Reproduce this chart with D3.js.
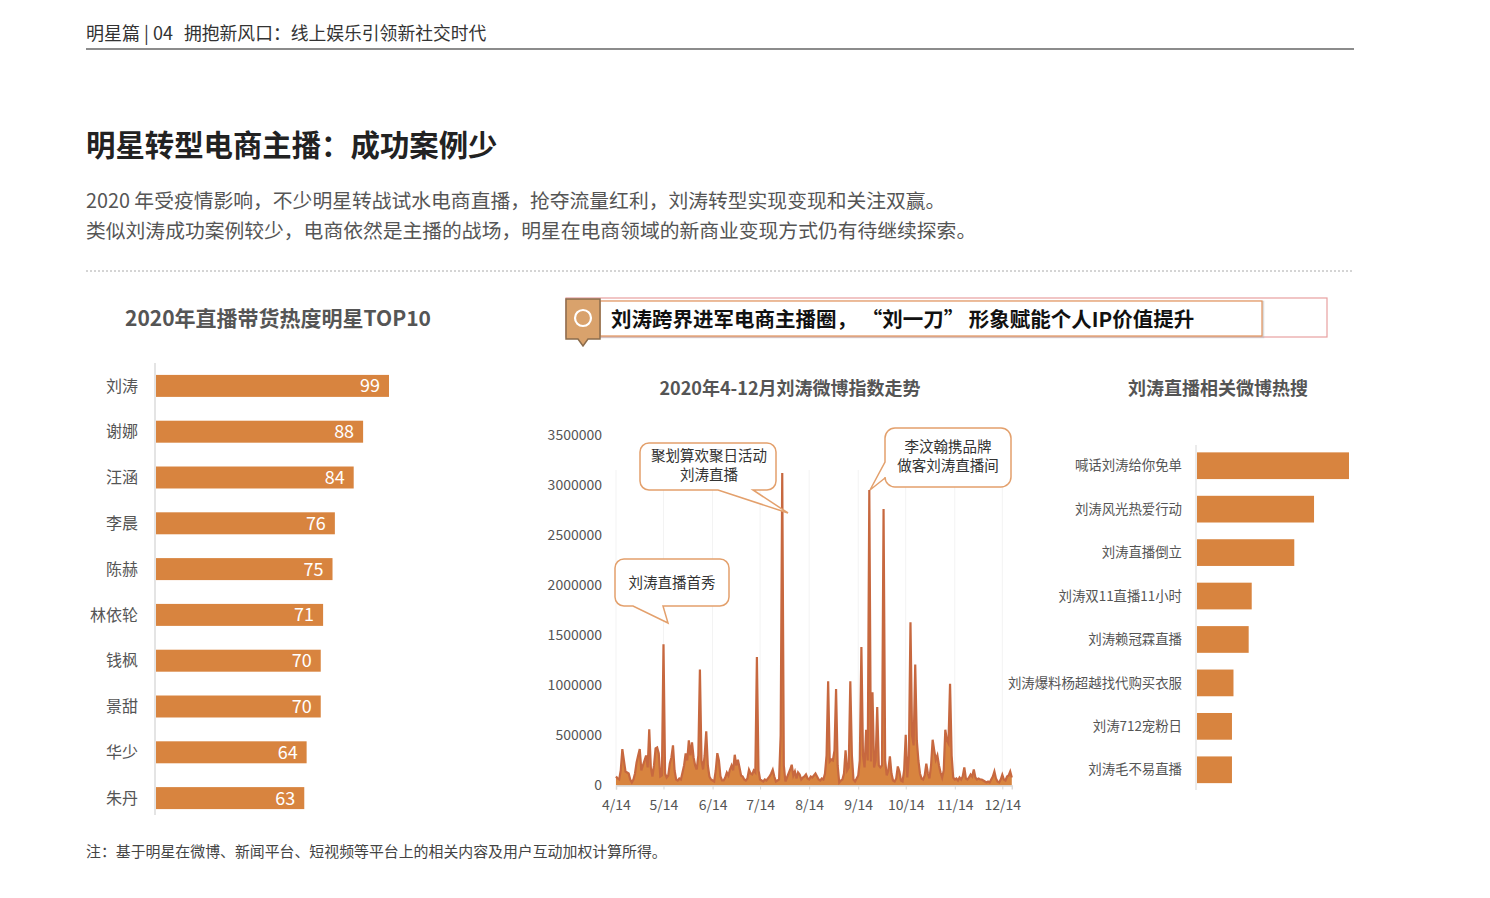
<!DOCTYPE html>
<html>
<head>
<meta charset="utf-8">
<script src="https://cdn.jsdelivr.net/npm/d3@7"></script>
<style>
  body { margin: 0; background: #fff; }
  svg text { font-family: "Noto Sans CJK SC", "Noto Sans", sans-serif; }
</style>
</head>
<body>
<div id="chart"></div>
<script>
// Left chart: 2020 live-commerce star heat TOP10
const starNames = ["刘涛", "谢娜", "汪涵", "李晨", "陈赫", "林依轮", "钱枫", "景甜", "华少", "朱丹"];
const starHeat = [99, 88, 84, 76, 75, 71, 70, 70, 64, 63];

// Right chart: related weibo hot searches (relative heat)
const hotTopics = ["喊话刘涛给你免单", "刘涛风光热爱行动", "刘涛直播倒立", "刘涛双11直播11小时",
  "刘涛赖冠霖直播", "刘涛爆料杨超越找代购买衣服", "刘涛712宠粉日", "刘涛毛不易直播"];
const hotValues = [100, 77, 64, 36, 34, 24, 23, 23];

// Middle chart: daily weibo index, 2020-04-14 .. 2020-12-20
const startDate = "2020-04-14";
const indexApr = [90000, 70000, 60000, 150000, 364000, 250000, 140000, 130000, 120000, 60000,
  30000, 60000, 120000, 230000, 300000, 364000, 150000];
const indexMay = [200000, 250000, 300000, 180000, 560000, 180000, 90000, 200000, 370000, 380000,
  320000, 90000, 100000, 1410000, 120000, 80000, 100000, 220000, 280000, 400000,
  150000, 60000, 50000, 70000, 60000, 130000, 200000, 320000, 250000, 450000, 300000];
const indexJun = [430000, 280000, 200000, 160000, 300000, 1157000, 250000, 160000, 300000, 540000,
  200000, 90000, 60000, 50000, 40000, 150000, 323000, 250000, 90000, 50000,
  50000, 80000, 130000, 100000, 160000, 200000, 150000, 307000, 200000, 257000];
const indexJul = [180000, 100000, 90000, 60000, 50000, 70000, 157000, 120000, 110000, 150000,
  130000, 1283000, 150000, 60000, 50000, 40000, 60000, 50000, 70000, 90000,
  120000, 157000, 90000, 40000, 50000, 60000, 500000, 3120000, 200000, 40000, 80000];
const indexAug = [120000, 160000, 207000, 100000, 140000, 70000, 130000, 110000, 60000, 80000,
  90000, 110000, 70000, 60000, 90000, 80000, 100000, 120000, 90000, 60000,
  50000, 70000, 60000, 120000, 300000, 1040000, 240000, 260000, 250000, 350000, 963000];
const indexSep = [200000, 30000, 50000, 60000, 120000, 350000, 150000, 180000, 1040000, 300000,
  60000, 40000, 70000, 100000, 250000, 1383000, 300000, 180000, 557000, 250000,
  2950000, 240000, 930000, 180000, 250000, 783000, 200000, 180000, 200000, 2760000];
const indexOct = [250000, 100000, 150000, 290000, 120000, 50000, 40000, 70000, 190000, 140000,
  50000, 40000, 150000, 507000, 80000, 300000, 1630000, 500000, 400000, 1207000,
  450000, 250000, 120000, 70000, 60000, 100000, 217000, 120000, 70000, 200000, 457000];
const indexNov = [350000, 257000, 300000, 200000, 130000, 80000, 150000, 557000, 450000, 420000,
  1017000, 300000, 80000, 60000, 70000, 50000, 80000, 60000, 90000, 180000,
  70000, 60000, 80000, 110000, 90000, 160000, 80000, 60000, 70000, 60000];
const indexDec = [60000, 50000, 40000, 30000, 40000, 30000, 60000, 90000, 140000, 70000,
  40000, 30000, 60000, 107000, 60000, 50000, 90000, 100000, 140000, 80000];

const yTicks = [0, 500000, 1000000, 1500000, 2000000, 2500000, 3000000, 3500000];
const xTickLabels = ["4/14", "5/14", "6/14", "7/14", "8/14", "9/14", "10/14", "11/14", "12/14"];

const callouts = [
  { lines: ["聚划算欢聚日活动", "刘涛直播"] },
  { lines: ["李汶翰携品牌", "做客刘涛直播间"] },
  { lines: ["刘涛直播首秀"] }
];

const orange = "#d8843f";
const lineColor = "#c7683f";
const textGray = "#555";

const svg = d3.select("#chart")
  .append("svg")
    .attr("width", 1490)
    .attr("height", 898);

// ---- page header ----
svg.append("text")
  .attr("x", 86).attr("y", 40)
  .attr("font-size", 18).attr("fill", "#333")
  .text("明星篇 | 04");

svg.append("text")
  .attr("x", 184).attr("y", 40)
  .attr("font-size", 17.8).attr("fill", "#333")
  .text("拥抱新风口：线上娱乐引领新社交时代");

svg.append("line")
  .attr("x1", 86).attr("x2", 1354).attr("y1", 49).attr("y2", 49)
  .attr("stroke", "#8c8c8c").attr("stroke-width", 2);

svg.append("text")
  .attr("x", 86).attr("y", 156)
  .attr("font-size", 29.4).attr("font-weight", "bold").attr("fill", "#222")
  .text("明星转型电商主播：成功案例少");

svg.append("text")
  .attr("x", 86).attr("y", 208)
  .attr("font-size", 19.8).attr("fill", textGray)
  .text("2020 年受疫情影响，不少明星转战试水电商直播，抢夺流量红利，刘涛转型实现变现和关注双赢。");

svg.append("text")
  .attr("x", 86).attr("y", 238)
  .attr("font-size", 19.8).attr("fill", textGray)
  .text("类似刘涛成功案例较少，电商依然是主播的战场，明星在电商领域的新商业变现方式仍有待继续探索。");

svg.append("line")
  .attr("x1", 86).attr("x2", 1354).attr("y1", 271).attr("y2", 271)
  .attr("stroke", "#aaa").attr("stroke-width", 1).attr("stroke-dasharray", "2,2");

// ---- left chart: TOP10 ----
svg.append("text")
  .attr("x", 278).attr("y", 326)
  .attr("text-anchor", "middle")
  .attr("font-size", 21).attr("font-weight", "bold").attr("fill", textGray)
  .text("2020年直播带货热度明星TOP10");

const yStar = d3.scaleBand()
  .domain(starNames)
  .range([363, 821])
  .paddingInner(0.52)
  .paddingOuter(0.26);

const xStar = d3.scaleLinear()
  .domain([0, 99])
  .range([156, 389]);

svg.append("line")
  .attr("x1", 155).attr("x2", 155).attr("y1", 363).attr("y2", 815)
  .attr("stroke", "#e4e4e4").attr("stroke-width", 2);

const starData = starNames.map((name, i) => ({ name, value: starHeat[i] }));

svg.selectAll(".star-bar")
  .data(starData)
  .enter().append("rect")
    .attr("class", "star-bar")
    .attr("x", xStar(0))
    .attr("y", d => yStar(d.name))
    .attr("width", d => xStar(d.value) - xStar(0))
    .attr("height", yStar.bandwidth())
    .attr("fill", orange);

svg.selectAll(".star-label")
  .data(starData)
  .enter().append("text")
    .attr("class", "star-label")
    .attr("x", 138)
    .attr("y", d => yStar(d.name) + yStar.bandwidth() / 2)
    .attr("dy", "0.35em")
    .attr("text-anchor", "end")
    .attr("font-size", 16).attr("fill", textGray)
    .text(d => d.name);

svg.selectAll(".star-value")
  .data(starData)
  .enter().append("text")
    .attr("class", "star-value")
    .attr("x", d => xStar(d.value) - 9)
    .attr("y", d => yStar(d.name) + yStar.bandwidth() / 2)
    .attr("dy", "0.36em")
    .attr("text-anchor", "end")
    .attr("font-size", 18).attr("fill", "#fff")
    .text(d => d.value);

// ---- banner ----
svg.append("rect")
  .attr("x", 566).attr("y", 298).attr("width", 761).attr("height", 39)
  .attr("fill", "none").attr("stroke", "#e8a0a0").attr("stroke-width", 1.2);

svg.append("rect")
  .attr("x", 601).attr("y", 302).attr("width", 662).attr("height", 35)
  .attr("fill", "#fff").attr("stroke", "#bbb").attr("stroke-width", 2.5).attr("opacity", 0.5);

svg.append("rect")
  .attr("x", 600).attr("y", 301).attr("width", 662).attr("height", 35)
  .attr("fill", "#fff").attr("stroke", "#e2915a").attr("stroke-width", 1.2);

svg.append("path")
  .attr("d", "M566,299 H600 V339 H588 L583,346 L578,339 H566 Z")
  .attr("fill", "#d9a26c").attr("stroke", "#8b6c4c").attr("stroke-width", 1.5);

svg.append("circle")
  .attr("cx", 583).attr("cy", 318).attr("r", 8)
  .attr("fill", "none").attr("stroke", "#fff").attr("stroke-width", 2.2);

svg.append("text")
  .attr("x", 611).attr("y", 327)
  .attr("font-size", 20.5).attr("font-weight", "bold").attr("fill", "#111")
  .attr("xml:space", "preserve")
  .text("刘涛跨界进军电商主播圈， “刘一刀” 形象赋能个人IP价值提升");

// ---- middle chart: weibo index ----
svg.append("text")
  .attr("x", 790).attr("y", 395)
  .attr("text-anchor", "middle")
  .attr("font-size", 18).attr("font-weight", "bold").attr("fill", textGray)
  .text("2020年4-12月刘涛微博指数走势");

const dailyValues = [].concat(indexApr, indexMay, indexJun, indexJul, indexAug,
  indexSep, indexOct, indexNov, indexDec);
const parseDate = d3.timeParse("%Y-%m-%d");
const day0 = parseDate(startDate);
const series = dailyValues.map((v, i) => ({ date: d3.timeDay.offset(day0, i), value: v }));

const x = d3.scaleTime()
  .domain([day0, d3.timeDay.offset(day0, dailyValues.length - 1)])
  .range([616, 616 + (dailyValues.length - 1) * 1.5832]);

const y = d3.scaleLinear()
  .domain([0, 3500000])
  .range([785.5, 435]);

const monthTicks = xTickLabels.map(s => {
  const [m, d] = s.split("/").map(Number);
  return new Date(2020, m - 1, d);
});

// faint vertical gridlines
svg.selectAll(".vgrid")
  .data(monthTicks)
  .enter().append("line")
    .attr("class", "vgrid")
    .attr("x1", d => x(d)).attr("x2", d => x(d))
    .attr("y1", 470).attr("y2", 785)
    .attr("stroke", "#f3f3f3").attr("stroke-width", 1);

const area = d3.area()
  .x(d => x(d.date))
  .y0(y(0))
  .y1(d => y(d.value));

const line = d3.line()
  .x(d => x(d.date))
  .y(d => y(d.value));

svg.append("path")
  .datum(series)
  .attr("d", area)
  .attr("fill", orange);

svg.append("path")
  .datum(series)
  .attr("d", line)
  .attr("fill", "none")
  .attr("stroke", lineColor)
  .attr("stroke-width", 2.2)
  .attr("stroke-linejoin", "miter");

// x axis
const xAxis = svg.append("g")
  .attr("transform", `translate(0,${y(0)})`)
  .call(d3.axisBottom(x)
    .tickValues(monthTicks)
    .tickSize(4)
    .tickFormat((d, i) => xTickLabels[i]));
xAxis.select(".domain").attr("stroke", "#d9d9d9").attr("stroke-width", 1.5);
xAxis.selectAll(".tick line").attr("stroke", "#d9d9d9");
xAxis.selectAll(".tick text")
  .attr("font-size", 14).attr("fill", textGray)
  .attr("font-family", "'Noto Sans CJK SC', sans-serif")
  .attr("y", 11)
  .attr("dy", "0.95em");

// y axis (labels only)
const yAxis = svg.append("g")
  .attr("transform", "translate(608,0)")
  .call(d3.axisLeft(y).tickValues(yTicks).tickSize(0).tickPadding(6).tickFormat(d3.format("d")));
yAxis.select(".domain").remove();
yAxis.selectAll(".tick text")
  .attr("font-size", 14).attr("fill", textGray)
  .attr("font-family", "'Noto Sans CJK SC', sans-serif");

// callout bubbles
function bubbleBottom(bx, by, w, h, r, t1, t2, tx, ty) {
  return `M${bx + r},${by} H${bx + w - r} A${r},${r} 0 0 1 ${bx + w},${by + r}` +
    ` V${by + h - r} A${r},${r} 0 0 1 ${bx + w - r},${by + h}` +
    ` H${t2} L${tx},${ty} L${t1},${by + h}` +
    ` H${bx + r} A${r},${r} 0 0 1 ${bx},${by + h - r} V${by + r} A${r},${r} 0 0 1 ${bx + r},${by} Z`;
}
function bubbleLeft(bx, by, w, h, r, t1, t2, tx, ty) {
  return `M${bx + r},${by} H${bx + w - r} A${r},${r} 0 0 1 ${bx + w},${by + r}` +
    ` V${by + h - r} A${r},${r} 0 0 1 ${bx + w - r},${by + h}` +
    ` H${bx + r} A${r},${r} 0 0 1 ${bx},${by + h - r}` +
    ` V${t2} L${tx},${ty} L${bx},${t1}` +
    ` V${by + r} A${r},${r} 0 0 1 ${bx + r},${by} Z`;
}

const bubbleLayout = [
  { d: bubbleBottom(640, 443, 136, 47, 9, 718, 753, 788, 513), cx: 709, ty: [461, 480] },
  { d: bubbleLeft(885, 428, 126, 59, 10, 462, 478, 870, 490), cx: 948, ty: [452, 471] },
  { d: bubbleBottom(615, 559, 114, 47, 9, 633, 663, 668, 623), cx: 672, ty: [588] }
];

callouts.forEach((c, i) => {
  const L = bubbleLayout[i];
  svg.append("path")
    .attr("d", L.d)
    .attr("fill", "#fff")
    .attr("stroke", "#e3a06c")
    .attr("stroke-width", 1.5);
  c.lines.forEach((t, j) => {
    svg.append("text")
      .attr("x", L.cx).attr("y", L.ty[j])
      .attr("text-anchor", "middle")
      .attr("font-size", 14.5).attr("fill", "#333")
      .text(t);
  });
});

// ---- right chart: hot searches ----
svg.append("text")
  .attr("x", 1218).attr("y", 395)
  .attr("text-anchor", "middle")
  .attr("font-size", 18).attr("font-weight", "bold").attr("fill", textGray)
  .text("刘涛直播相关微博热搜");

const yHot = d3.scaleBand()
  .domain(hotTopics)
  .range([444, 791.5])
  .paddingInner(0.385)
  .paddingOuter(0.1925);

const xHot = d3.scaleLinear()
  .domain([0, 100])
  .range([1197, 1349]);

svg.append("line")
  .attr("x1", 1196).attr("x2", 1196).attr("y1", 445).attr("y2", 790)
  .attr("stroke", "#e4e4e4").attr("stroke-width", 1.5);

const hotData = hotTopics.map((name, i) => ({ name, value: hotValues[i] }));

svg.selectAll(".hot-bar")
  .data(hotData)
  .enter().append("rect")
    .attr("class", "hot-bar")
    .attr("x", xHot(0))
    .attr("y", d => yHot(d.name))
    .attr("width", d => xHot(d.value) - xHot(0))
    .attr("height", yHot.bandwidth())
    .attr("fill", orange);

svg.selectAll(".hot-label")
  .data(hotData)
  .enter().append("text")
    .attr("class", "hot-label")
    .attr("x", 1182)
    .attr("y", d => yHot(d.name) + yHot.bandwidth() / 2)
    .attr("dy", "0.35em")
    .attr("text-anchor", "end")
    .attr("font-size", 13.4).attr("fill", textGray)
    .text(d => d.name);

// ---- footnote ----
svg.append("text")
  .attr("x", 86).attr("y", 857)
  .attr("font-size", 14.9).attr("fill", "#444")
  .text("注：基于明星在微博、新闻平台、短视频等平台上的相关内容及用户互动加权计算所得。");
</script>
</body>
</html>
